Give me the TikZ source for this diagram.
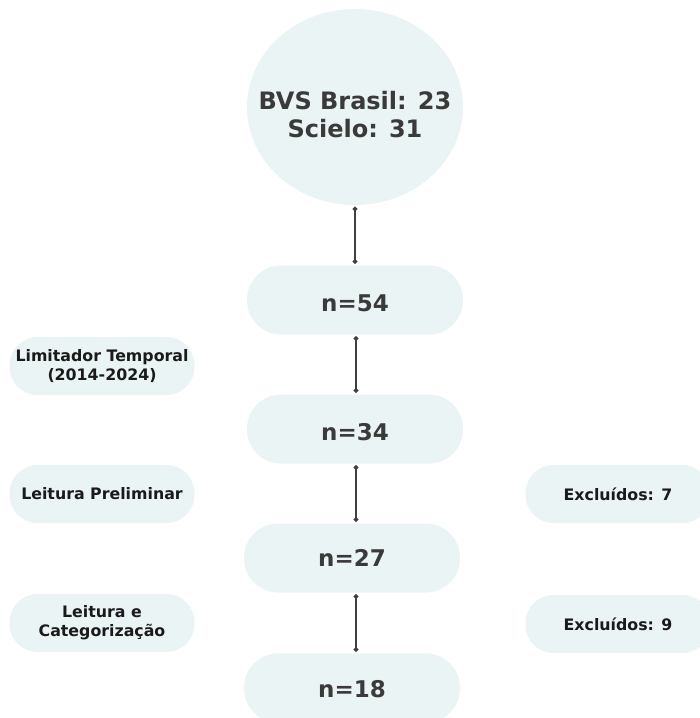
\documentclass[tikz,border=0pt]{standalone}
\usepackage{fontspec}
\setmainfont{DejaVu Sans}
\usetikzlibrary{shapes.geometric,arrows.meta}
\definecolor{boxfill}{HTML}{EAF4F5}
\definecolor{maintext}{HTML}{3A3A3A}
\definecolor{smalltext}{HTML}{1A1A1A}
\definecolor{linecol}{HTML}{404040}
\begin{document}
\begin{tikzpicture}[x=1pt,y=-1pt,
  mainbox/.style={draw=none,fill=boxfill,rectangle,rounded corners=34pt,minimum width=216pt,minimum height=69pt,inner sep=0pt},
  maintxt/.style={inner sep=0pt,font=\bfseries\fontsize{23}{26}\selectfont,text=maintext},
  sidebox/.style={draw=none,fill=boxfill,rectangle,rounded corners=28pt,minimum width=185pt,minimum height=58pt,inner sep=0pt,align=center,font=\bfseries\fontsize{15.8}{19}\selectfont,text=smalltext},
  conn/.style={draw=linecol,line width=1.2pt,{Circle[length=4.6pt]}-{Circle[length=4.6pt]},shorten <=1.5pt,shorten >=1.5pt}]
\useasboundingbox (0,0) rectangle (700,718);
\begin{scope}
\clip (0,0) rectangle (700,718);
\node[ellipse,fill=boxfill,minimum width=216pt,minimum height=196pt,inner sep=0pt] (src) at (355,107) {};
\node[inner sep=0pt,align=center,text=maintext,font=\bfseries\fontsize{24}{28}\selectfont] (srct) at (355,115) {BVS Brasil: 23\\Scielo: 31};
\node[mainbox] (n54) at (355,300) {};
\node[mainbox] (n34) at (355,429) {};
\node[mainbox] (n27) at (352,558) {};
\node[mainbox] (n18) at (352,688) {};
\node[maintxt] (t54) at (355,303) {n=54};
\node[maintxt] (t34) at (355,432) {n=34};
\node[maintxt] (t27) at (352,558) {n=27};
\node[maintxt] (t18) at (352,689) {n=18};
\node[sidebox] (lim) at (102,366) {Limitador Temporal\\(2014-2024)};
\node[sidebox] (lp) at (102,494) {Leitura Preliminar};
\node[sidebox] (lc) at (102,623) {Leitura e\\Categorização};
\node[sidebox] (ex7) at (618,494) {Excluídos: 7};
\node[sidebox] (ex9) at (618,624) {Excluídos: 9};
\draw[conn] (src.south) -- (n54.north -| src.south);
\draw[conn] ([xshift=1pt]n54.south) -- ([xshift=1pt]n34.north);
\draw[conn] ([xshift=1pt]n34.south) -- ([xshift=1pt]n34.south |- n27.north);
\draw[conn] ([xshift=4pt]n27.south) -- ([xshift=4pt]n18.north);
\end{scope}
\end{tikzpicture}
\end{document}
